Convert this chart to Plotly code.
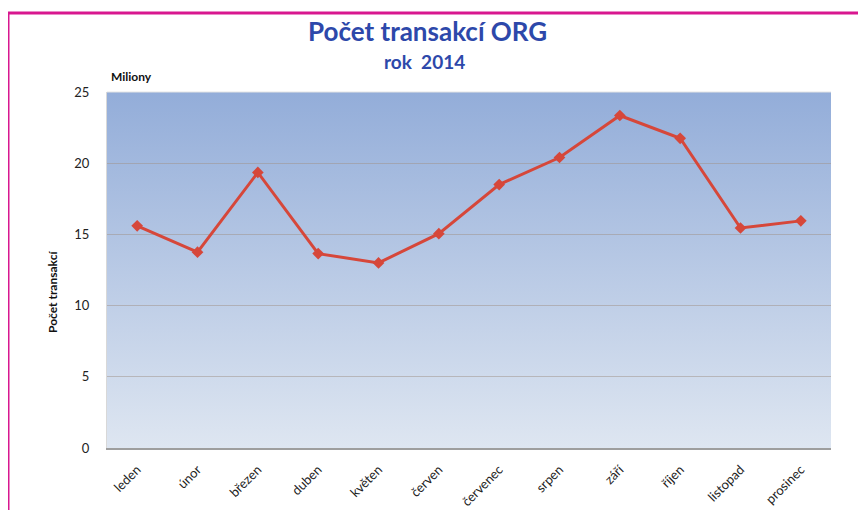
import base64
import plotly.graph_objects as go

months = ["leden", "únor", "březen", "duben", "květen", "červen",
          "červenec", "srpen", "září", "říjen", "listopad", "prosinec"]
transactions = [15.6, 13.75, 19.35, 13.65, 13.0, 15.05,
                18.5, 20.4, 23.35, 21.75, 15.45, 15.95]
y_ticks = [0, 5, 10, 15, 20, 25]

title_text = "Počet transakcí ORG"
subtitle_text = "rok\u00a0 2014"
y_title = "Počet transakcí"
unit_label = "Miliony"

FONT = "Lato, 'Open Sans', sans-serif"

svg = ('<svg xmlns="http://www.w3.org/2000/svg" width="100" height="100" preserveAspectRatio="none">'
       '<defs><linearGradient id="g" x1="0" y1="0" x2="0" y2="1">'
       '<stop offset="0" stop-color="#93ADD9"/>'
       '<stop offset="1" stop-color="#DEE6F1"/>'
       '</linearGradient></defs>'
       '<rect width="100" height="100" fill="url(#g)"/></svg>')
svg_uri = "data:image/svg+xml;base64," + base64.b64encode(svg.encode()).decode()

fig = go.Figure()
fig.add_trace(go.Scatter(
    x=months, y=transactions, mode="lines+markers",
    line=dict(color="#D6473A", width=3),
    marker=dict(symbol="diamond", size=9, color="#D6473A"),
    hoverinfo="x+y", showlegend=False,
))

# page body has an 8px margin; screen coords = figure coords + OFF
OFF = 8
W, H = 866 - OFF, 510 - OFF
L, R, T, B = 107 - OFF, 35, 92 - OFF, 62
pw, ph = W - L - R, H - T - B

def px_x(p):
    return (p - OFF - L) / pw

def px_y(p):
    return 1 - (p - OFF - T) / ph

fig.update_layout(
    width=W, height=H,
    margin=dict(l=L, r=R, t=T, b=B),
    paper_bgcolor="white",
    plot_bgcolor="rgba(0,0,0,0)",
    font=dict(family=FONT, size=12, color="#222"),
    images=[dict(source=svg_uri, xref="paper", yref="paper", x=0, y=1,
                 sizex=1, sizey=1, sizing="stretch", layer="below",
                 xanchor="left", yanchor="top")],
    xaxis=dict(
        type="category", tickangle=-45, automargin=False,
        showgrid=False, showline=True, linecolor="#9E9E9E", linewidth=2,
        ticks="outside", ticklen=7, tickcolor="rgba(0,0,0,0)",
        tickfont=dict(family=FONT, size=13, color="#222"),
        range=[-0.5, len(months) - 0.5],
    ),
    yaxis=dict(
        range=[0, 25], tickvals=y_ticks, automargin=False,
        showgrid=True, gridcolor="rgba(160,145,135,0.5)", gridwidth=1,
        zeroline=False, showline=True, linecolor="#D8D8D8", linewidth=1,
        mirror=False,
        ticks="outside", ticklen=14, tickcolor="rgba(0,0,0,0)",
        tickfont=dict(family=FONT, size=13, color="#222"),
    ),
    annotations=[
        dict(text=f"<b>{title_text}</b>", xref="paper", yref="paper",
             x=px_x(427), y=px_y(31), showarrow=False,
             font=dict(family=FONT, size=26, color="#2D48AA"),
             xanchor="center", yanchor="middle"),
        dict(text=f"<b>{subtitle_text}</b>", xref="paper", yref="paper",
             x=px_x(424), y=px_y(61), showarrow=False,
             font=dict(family=FONT, size=19, color="#2D48AA"),
             xanchor="center", yanchor="middle"),
        dict(text=f"<b>{unit_label}</b>", xref="paper", yref="paper",
             x=px_x(109), y=px_y(77), showarrow=False,
             font=dict(family=FONT, size=12, color="#111"),
             xanchor="left", yanchor="middle"),
        dict(text=f"<b>{y_title}</b>", xref="paper", yref="paper",
             x=px_x(52), y=px_y(292), showarrow=False, textangle=-90,
             font=dict(family=FONT, size=12, color="#111"),
             xanchor="center", yanchor="middle"),
    ],
    shapes=[
        dict(type="line", xref="paper", yref="paper",
             x0=px_x(7), x1=px_x(880), y0=px_y(13), y1=px_y(13),
             line=dict(color="#D8178F", width=3)),
        dict(type="line", xref="paper", yref="paper",
             x0=px_x(8), x1=px_x(8), y0=px_y(12), y1=px_y(530),
             line=dict(color="#D8178F", width=3)),
        dict(type="line", xref="paper", yref="paper",
             x0=0, x1=1, y0=1, y1=1,
             line=dict(color="#E4E4E4", width=1)),
    ],
)

fig.write_html("out.html")
